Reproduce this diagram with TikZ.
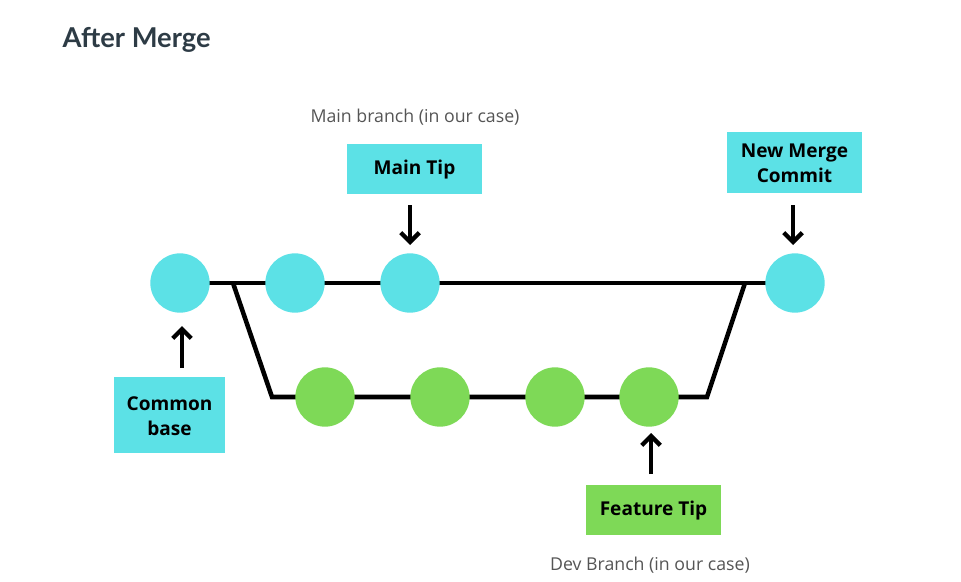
\documentclass[tikz,border=0pt]{standalone}
\usepackage{fontspec}
\setmainfont{Open Sans}
\newfontfamily\titlefont{Lato}
\usetikzlibrary{arrows.meta}
\definecolor{cyanc}{HTML}{5CE1E6}
\definecolor{greenc}{HTML}{7ED957}
\definecolor{titlec}{HTML}{2D3B45}
\definecolor{capc}{HTML}{555555}
\begin{document}
\begin{tikzpicture}[x=0.75pt,y=-0.75pt,
  commit/.style={circle,minimum size=44.5pt,inner sep=0pt},
  maincommit/.style={commit,fill=cyanc},
  devcommit/.style={commit,fill=greenc},
  tag/.style={inner sep=0pt,font=\bfseries\fontsize{14.3}{18.7}\selectfont,align=center},
  branchline/.style={line width=3.4pt,line join=miter},
  pointer/.style={line width=3.2pt,-{Straight Barb[length=7pt,width=14pt,line width=3.2pt]}},
  caption/.style={font=\fontsize{13.3}{16}\selectfont,text=capc}]
\useasboundingbox (0,0) rectangle (961,582);
\node[anchor=west,font=\titlefont\bfseries\fontsize{20.5}{24}\selectfont,text=titlec] (title) at (58,40) {After Merge};
% coordinates of the dev branch
\coordinate (fork) at (233,283);
\coordinate (devl) at (272,397);
\coordinate (devr) at (707,397);
\coordinate (join) at (745,283);
\coordinate (mstart) at (180,283);
\coordinate (mend) at (795,283);
\draw[branchline] (mstart) -- (mend);
\draw[branchline] (fork) -- (devl) -- (devr) -- (join);
\node[maincommit] (m1) at (180,283) {};
\node[maincommit] (m2) at (295,283) {};
\node[maincommit] (m3) at (410,283) {};
\node[maincommit] (m4) at (795,283) {};
\node[devcommit] (d1) at (325,397) {};
\node[devcommit] (d2) at (440,397) {};
\node[devcommit] (d3) at (555,397) {};
\node[devcommit] (d4) at (649,397) {};
% tag boxes
\path[fill=cyanc] (347,144) rectangle (482,194);
\node[tag] (maintip) at (414.5,170) {Main Tip};
\path[fill=cyanc] (727,132) rectangle (862,193);
\node[tag] (merge) at (794.5,163) {New Merge\\Commit};
\path[fill=cyanc] (114,377) rectangle (225,453);
\node[tag] (base) at (169.5,416) {Common\\base};
\path[fill=greenc] (586,485) rectangle (721,535);
\node[tag] (feat) at (653.5,511) {Feature Tip};
% captions
\node[caption] (maincap) at (415,117) {Main branch (in our case)};
\node[caption] (devcap) at (650,565) {Dev Branch (in our case)};
% pointer end points
\coordinate (p1s) at (410,205); \coordinate (p1e) at (410,245);
\coordinate (p2s) at (793,205); \coordinate (p2e) at (793,245);
\coordinate (p3s) at (182,368); \coordinate (p3e) at (182,326);
\coordinate (p4s) at (651,474); \coordinate (p4e) at (651,433);
\draw[pointer] (p1s) -- (p1e);
\draw[pointer] (p2s) -- (p2e);
\draw[pointer] (p3s) -- (p3e);
\draw[pointer] (p4s) -- (p4e);
\end{tikzpicture}
\end{document}
